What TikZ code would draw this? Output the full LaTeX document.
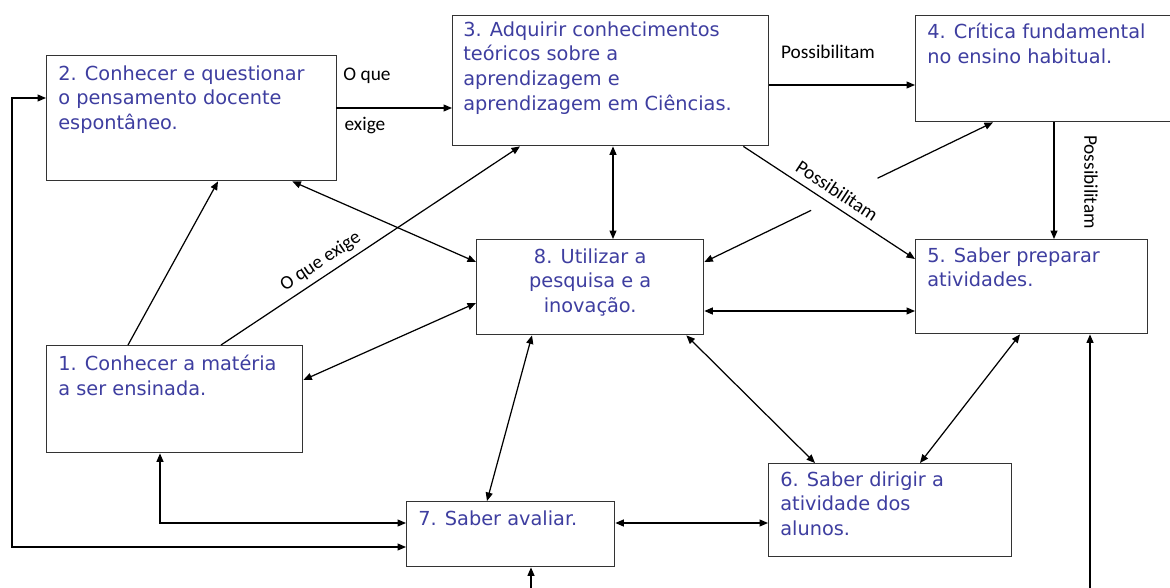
\documentclass[tikz,border=0pt]{standalone}
\usepackage{fontspec}
\setmainfont{DejaVu Sans}
\newfontfamily\lblfont{Carlito}
\usetikzlibrary{positioning,arrows.meta,calc}
\definecolor{boxblue}{RGB}{62,62,160}

\begin{document}
\begin{tikzpicture}[x=0.02cm,y=-0.02cm,
  box/.style={draw=black!80,line width=0.8pt,fill=white,anchor=north west,inner sep=0pt},
  txt/.style={anchor=north west,inner sep=0pt,align=left,text=boxblue,font=\fontsize{11}{14.2}\selectfont},
  lbl/.style={font=\lblfont\fontsize{11}{12}\selectfont,inner sep=1pt},
  arr/.style={line width=0.7pt,-{Triangle[length=1.7mm,width=1.4mm]}},
  darr/.style={line width=0.7pt,{Triangle[length=1.7mm,width=1.4mm]}-{Triangle[length=1.7mm,width=1.4mm]}}]
  \useasboundingbox (0,0) rectangle (1170,588);

  % boxes
  \node[box,minimum width=5.8cm,minimum height=2.5cm] (n2) at (46,55) {};
  \node[box,minimum width=6.32cm,minimum height=2.6cm] (n3) at (452,15) {};
  \node[box,minimum width=5.4cm,minimum height=2.12cm] (n4) at (915,15) {};
  \node[box,minimum width=4.54cm,minimum height=1.9cm] (n8) at (476,239) {};
  \node[box,minimum width=4.64cm,minimum height=1.88cm] (n5) at (915,239) {};
  \node[box,minimum width=5.12cm,minimum height=2.14cm] (n1) at (46,345) {};
  \node[box,minimum width=4.16cm,minimum height=1.3cm] (n7) at (406,501) {};
  \node[box,minimum width=4.86cm,minimum height=1.86cm] (n6) at (768,463) {};

  % texts
  \node[txt] (t2) at ($(n2.north west)+(12,10)$) {2. Conhecer e questionar\\o pensamento docente\\espontâneo.};
  \node[txt] (t3) at ($(n3.north west)+(11,6)$) {3. Adquirir conhecimentos\\teóricos sobre a\\aprendizagem e\\aprendizagem em Ciências.};
  \node[txt] (t4) at ($(n4.north west)+(12,8)$) {4. Crítica fundamental\\no ensino habitual.};
  \node[txt,anchor=north,align=center] (t8) at ($(n8.north)+(0,9)$) {8. Utilizar a\\pesquisa e a\\inovação.};
  \node[txt] (t5) at ($(n5.north west)+(12,8)$) {5. Saber preparar\\atividades.};
  \node[txt] (t1) at ($(n1.north west)+(12,10)$) {1. Conhecer a matéria\\a ser ensinada.};
  \node[txt] (t7) at ($(n7.north west)+(12,9)$) {7. Saber avaliar.};
  \node[txt] (t6) at ($(n6.north west)+(12,8)$) {6. Saber dirigir a\\atividade dos\\alunos.};

  % connectors
  \draw[arr] ($(n2.north west)+(290,53)$) -- ($(n3.north west)+(0,93)$);
  \node[lbl] (l1) at (367,76) {O que};
  \node[lbl] (l2) at (365,126) {exige};
  \draw[arr] ($(n3.north east)+(0,70)$) -- ($(n4.north west)+(0,70)$);
  \node[lbl] (l3) at (828,52) {Possibilitam};
  \draw[arr] ($(n4.south west)+(139,0)$) -- ($(n5.north west)+(139,0)$);
  \node[lbl,rotate=-90] (l4) at (1091,182) {Possibilitam};
  \draw[arr] ($(n3.south east)+(-26,0)$) -- ($(n5.north west)+(0,20)$)
    node[lbl,pos=0.5,sloped,above=3pt] (l5) {Possibilitam};
  \draw[arr] ($(n1.north west)+(82,0)$) -- ($(n2.south west)+(172,0)$);
  \draw[arr] ($(n1.north west)+(175,0)$) -- ($(n3.south west)+(68,0)$)
    node[lbl,pos=0.36,sloped,above=2pt] (l6) {O que exige};
  \draw[darr] ($(n2.south east)+(-45,0)$) -- ($(n8.north west)+(0,23)$);
  \draw[darr] ($(n1.north east)+(0,35)$) -- ($(n8.north west)+(0,64)$);
  \draw[darr] ($(n3.south west)+(161,0)$) -- ($(n8.north west)+(137,0)$);
  \path ($(n8.north east)+(0,23)$) -- ($(n4.south west)+(78,0)$)
    coordinate[pos=0.37] (g1) coordinate[pos=0.60] (g2);
  \draw[arr] (g1) -- ($(n8.north east)+(0,23)$);
  \draw[arr] (g2) -- ($(n4.south west)+(78,0)$);
  \draw[darr] ($(n8.north east)+(0,72)$) -- ($(n5.north west)+(0,72)$);
  \draw[darr] ($(n8.south east)+(-18,0)$) -- ($(n6.north west)+(47,0)$);
  \draw[darr] ($(n5.south west)+(105,0)$) -- ($(n6.north west)+(152,0)$);
  \draw[darr] ($(n8.south west)+(56,0)$) -- ($(n7.north west)+(81,0)$);
  \draw[darr] ($(n7.north east)+(0,22)$) -- ($(n6.north west)+(0,60)$);
  \draw[darr] ($(n1.south west)+(114,0)$) |- ($(n7.north west)+(0,22)$);
  \coordinate (loop) at (12,547);
  \draw[darr] ($(n2.north west)+(0,43)$) -| (loop) -- ($(n7.north west)+(0,46)$);
  \coordinate (in5) at (1090,590);
  \draw[arr] (in5) -- (in5 |- n5.south);
  \coordinate (in7) at (531,590);
  \draw[arr] (in7) -- (in7 |- n7.south);
\end{tikzpicture}
\end{document}
